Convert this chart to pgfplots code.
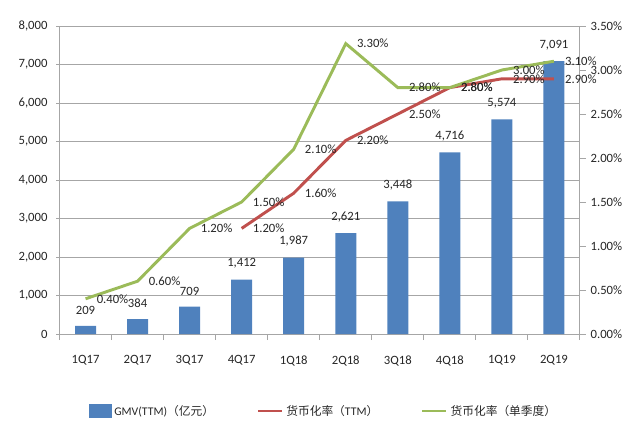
\documentclass[border=0pt]{standalone}
\usepackage{fontspec}
\setmainfont{Carlito}
\newfontfamily\cjk{Noto Sans CJK SC}
\usepackage{pgfplots}
\pgfplotsset{compat=1.18}
\definecolor{barblue}{HTML}{4F81BD}
\definecolor{lred}{HTML}{C0504D}
\definecolor{lgreen}{HTML}{9BBB59}
\definecolor{gridgray}{HTML}{A6A6A6}
\definecolor{txt}{HTML}{262626}
\begin{document}
\begin{tikzpicture}[font=\fontsize{9.5bp}{11bp}\selectfont]
\path[use as bounding box] (-44.625bp,-65.25bp) rectangle (435.375bp,250.5bp);
\pgfplotsset{every axis/.append style={scale only axis, width=390.375bp, height=231bp,
  at={(0,0)}, anchor=south west, xmin=-0.5, xmax=9.5,
  /pgf/number format/assume math mode=true,
  tick style={gridgray, line width=0.75bp},
  axis line style={gridgray, line width=0.75bp},
  tick label style={text=txt, font=\fontsize{9.5bp}{11bp}\selectfont},
  tick align=outside}}
\begin{axis}[
  ymin=0, ymax=8000, ytick={0,1000,...,8000},
  axis y line*=left, axis x line*=bottom,
  ymajorgrids, grid style={gridgray, line width=0.75bp},
  yticklabel style={/pgf/number format/1000 sep={,}, xshift=-3bp},
  major tick length=2.5bp,
  xtick={0,...,9},
  xticklabels={1Q17,2Q17,3Q17,4Q17,1Q18,2Q18,3Q18,4Q18,1Q19,2Q19},
  x tick style={draw=none},
  xticklabel style={yshift=-10bp},
  minor xtick={-0.5,0.5,...,9.5},
  minor x tick style={draw=gridgray},
  minor tick length=4.5bp,
  legend columns=3,
  legend style={at={(0.508,-0.25)}, anchor=center, draw=none, fill=none,
    font=\fontsize{8.8bp}{11bp}\selectfont, text=txt,
    /tikz/every odd column/.append style={column sep=0bp},
    /tikz/every even column/.append style={column sep=30bp}},
]
\addplot[ybar, bar width=15.75bp, fill=barblue, draw=none,
  nodes near coords,
  every node near coord/.append style={anchor=south, yshift=5bp, text=txt,
    font=\fontsize{9.5bp}{11bp}\selectfont, /pgf/number format/1000 sep={,}},
  legend image code/.code={\fill[barblue] (0bp,-5bp) rectangle (17bp,5bp);}]
  coordinates {(0,209) (1,384) (2,709) (3,1412) (4,1987) (5,2621) (6,3448) (7,4716) (8,5574) (9,7091)};
\addlegendentry{GMV(TTM){\cjk （亿元）}}
\addlegendimage{legend image code/.code={\draw[lred, line width=2.2bp] (0bp,0bp) -- (18bp,0bp);}}
\addlegendentry{{\cjk 货币化率（}TTM{\cjk ）}}
\addlegendimage{legend image code/.code={\draw[lgreen, line width=2.2bp] (0bp,0bp) -- (18bp,0bp);}}
\addlegendentry{{\cjk 货币化率（单季度）}}
\end{axis}
\begin{axis}[
  ymin=0, ymax=3.5, ytick={0,0.5,1,1.5,2,2.5,3,3.5},
  axis y line*=right, axis x line=none,
  major tick length=4.5bp,
  yticklabel={\pgfmathprintnumber[fixed,fixed zerofill,precision=2]{\tick}\%},
  clip=false,
]
\addplot[lred, line width=2.2bp,
  nodes near coords={\pgfmathprintnumber[fixed,fixed zerofill,precision=2]{\pgfplotspointmeta}\%},
  every node near coord/.append style={anchor=west, xshift=4bp, text=txt,
    font=\fontsize{9.5bp}{11bp}\selectfont}]
  coordinates {(3,1.2) (4,1.6) (5,2.2) (6,2.5) (7,2.8) (8,2.9) (9,2.9)};
\addplot[lgreen, line width=2.2bp,
  nodes near coords={\pgfmathprintnumber[fixed,fixed zerofill,precision=2]{\pgfplotspointmeta}\%},
  every node near coord/.append style={anchor=west, xshift=4bp, text=txt,
    font=\fontsize{9.5bp}{11bp}\selectfont}]
  coordinates {(0,0.4) (1,0.6) (2,1.2) (3,1.5) (4,2.1) (5,3.3) (6,2.8) (7,2.8) (8,3.0) (9,3.1)};
\end{axis}
\end{tikzpicture}
\end{document}
